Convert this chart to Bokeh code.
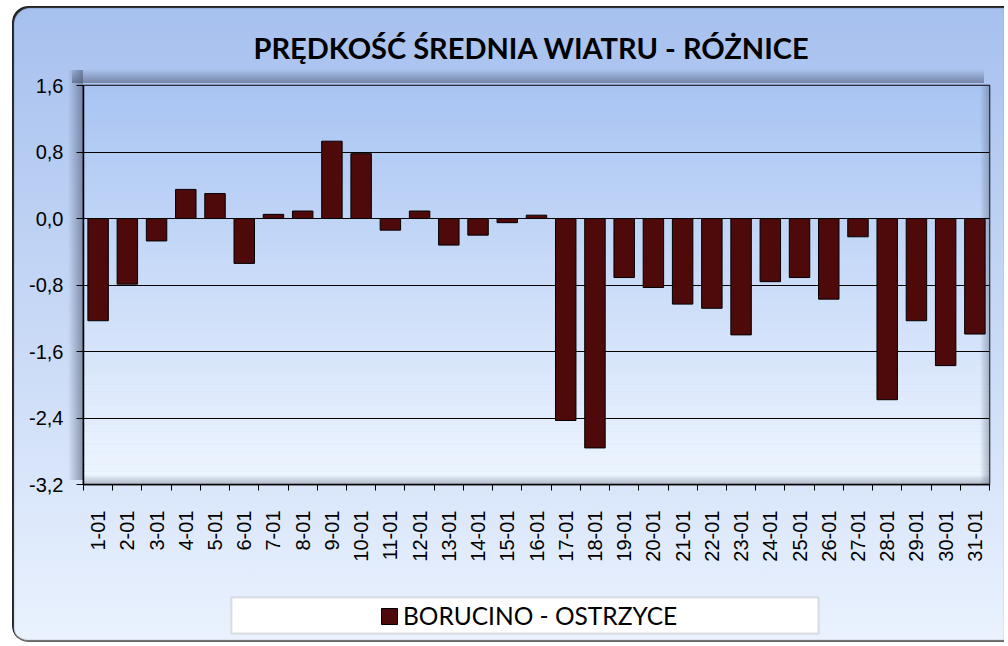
import math
from bokeh.plotting import figure
from bokeh.layouts import column
from bokeh.models import (Range1d, FixedTicker, CustomJSTickFormatter, BoxAnnotation, ColumnDataSource)
from bokeh.embed import file_html
from bokeh.resources import INLINE

# ---- data ----
days = [f"{d}-01" for d in range(1, 32)]
diff = [-1.23, -0.79, -0.27, 0.35, 0.30, -0.54, 0.05, 0.09, 0.93, 0.78,
        -0.14, 0.09, -0.32, -0.20, -0.05, 0.04, -2.43, -2.76, -0.71, -0.83,
        -1.03, -1.08, -1.40, -0.76, -0.71, -0.97, -0.22, -2.18, -1.23, -1.77, -1.39]
y_ticks = [-3.2, -2.4, -1.6, -0.8, 0.0, 0.8, 1.6]
series_name = "BORUCINO - OSTRZYCE"
title_text = "PRĘDKOŚĆ ŚREDNIA WIATRU - RÓŻNICE"

BAR_COLOR = "#4e0a0a"
N = len(days)
src = ColumnDataSource(dict(pos=[i + 0.5 for i in range(N)], day=days, val=diff))

W = 992
FRAME_W = 906
p = figure(width=W, height=560, output_backend="svg", toolbar_location=None,
           x_range=Range1d(0, N), y_range=Range1d(y_ticks[0], y_ticks[-1]),
           min_border_left=71, min_border_right=15,
           min_border_top=77, min_border_bottom=82)
p.border_fill_color = None
p.background_fill_color = None
p.outline_line_color = "black"
p.outline_line_width = 1.5

# plot-area gradient
def lerp(c1, c2, t):
    return "#%02x%02x%02x" % tuple(int(round(a + (b - a) * t)) for a, b in zip(c1, c2))
top_c, bot_c = (0xa8, 0xc4, 0xf2), (0xee, 0xf5, 0xff)
n = 60
y0, y1 = y_ticks[-1], y_ticks[0]
for i in range(n):
    t0 = y0 + (y1 - y0) * i / n
    t1 = y0 + (y1 - y0) * (i + 1) / n
    p.add_layout(BoxAnnotation(top=t0, bottom=t1, fill_color=lerp(top_c, bot_c, (i + 0.5) / n),
                               fill_alpha=1, line_alpha=0, level="image"))
# inner bevel along bottom and right edges
for k in range(9):
    a = 0.45 * (1 - k / 9)
    p.add_layout(BoxAnnotation(bottom=k, top=k + 1, bottom_units="screen", top_units="screen",
                               fill_color="#5a6478", fill_alpha=a, line_alpha=0, level="image"))
    p.add_layout(BoxAnnotation(right=FRAME_W - k, left=FRAME_W - k - 1,
                               right_units="screen", left_units="screen",
                               fill_color="#5a6478", fill_alpha=a, line_alpha=0, level="image"))

# grid
p.xgrid.visible = False
p.ygrid.ticker = FixedTicker(ticks=y_ticks)
p.ygrid.grid_line_color = "black"
p.ygrid.grid_line_width = 1

# bars
p.vbar(x="pos", top="val", source=src, width=0.7, fill_color=BAR_COLOR, line_color="black",
       line_width=1)

# y axis
ya = p.yaxis[0]
ya.ticker = FixedTicker(ticks=y_ticks)
ya.formatter = CustomJSTickFormatter(code="return tick.toFixed(1).replace('.', ',');")
ya.major_tick_out = 7
ya.major_tick_in = 0
ya.minor_tick_out = 0
ya.minor_tick_in = 0
ya.axis_line_color = "black"
ya.axis_line_width = 1.5
ya.major_tick_line_color = "black"
ya.major_label_text_font = "Liberation Sans"
ya.major_label_text_font_size = "20px"
ya.major_label_text_color = "black"
ya.major_label_standoff = 13

# x axis with ticks at category boundaries
xa = p.xaxis[0]
xa.ticker = FixedTicker(ticks=[i + 0.5 for i in range(N)], minor_ticks=list(range(N + 1)))
xa.formatter = CustomJSTickFormatter(args=dict(labels=days),
                                     code="return labels[Math.floor(tick)];")
xa.major_label_orientation = math.pi / 2
xa.major_tick_out = 0
xa.major_tick_in = 0
xa.minor_tick_out = 6
xa.minor_tick_in = 0
xa.minor_tick_line_color = "black"
xa.axis_line_color = "black"
xa.axis_line_width = 1.5
xa.major_label_text_font = "Liberation Sans"
xa.major_label_text_font_size = "20px"
xa.major_label_text_color = "black"
xa.major_label_standoff = 20

# title
p.title.text = title_text
p.title.align = "left"
p.title.offset = 170
p.title.text_font = "Lato"
p.title.text_font_style = "bold"
p.title.text_font_size = "29px"
p.title.text_color = "black"
p.title.standoff = 42

# legend strip
q = figure(width=W, height=76, output_backend="svg", toolbar_location=None,
           x_range=Range1d(0, W), y_range=Range1d(0, 76),
           x_axis_location=None, y_axis_location=None,
           min_border_left=0, min_border_right=0, min_border_top=0, min_border_bottom=0)
q.border_fill_color = None
q.background_fill_color = None
q.outline_line_color = None
q.grid.visible = False
q.add_layout(BoxAnnotation(left=148, right=735, bottom=9, top=45,
                           left_units="screen", right_units="screen",
                           top_units="screen", bottom_units="screen",
                           fill_color="white", fill_alpha=1, line_color="#9a9a9a",
                           line_width=2, level="underlay"))
q.vbar(x=[float("nan")], top=[float("nan")], width=0.7, fill_color=BAR_COLOR,
       line_color="black", line_width=1, legend_label=series_name)
lg = q.legend[0]
lg.location = (296, 12)
lg.padding = 0
lg.margin = 0
lg.glyph_width = 20
lg.glyph_height = 20
lg.label_height = 20
lg.label_standoff = 4
lg.label_text_font = "Lato"
lg.label_text_font_size = "24.5px"
lg.label_text_color = "black"
lg.background_fill_alpha = 0
lg.border_line_alpha = 0

shadow = "rgba(70,80,105,0)", "rgba(70,80,105,0.55)"
layout = column(p, q, spacing=0,
                styles={"background":
                        f"linear-gradient(to right, {shadow[0]}, {shadow[1]}) 56px 64px / 15px 410px no-repeat, "
                        f"linear-gradient(to bottom, {shadow[0]}, {shadow[1]}) 60px 63px / 912px 14px no-repeat, "
                        "linear-gradient(#a6c0ee, #eaf2fe)",
                        "border-radius": "16px 0 0 16px",
                        "box-shadow": "inset 2px 2px 1px #222, inset 0 -2px 1px #666",
                        "margin-left": "12px", "margin-top": "6px"})

open("out.html", "w").write(file_html(layout, INLINE))
